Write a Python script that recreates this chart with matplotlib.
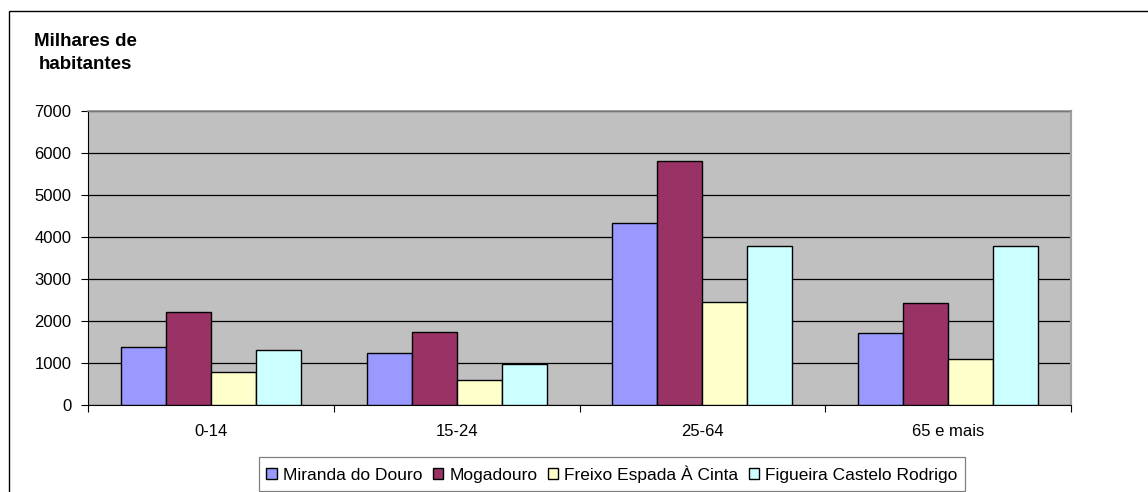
import numpy as np
import matplotlib.pyplot as plt
from matplotlib.patches import Rectangle

plt.rcParams['font.family'] = ['Liberation Sans', 'DejaVu Sans']

# dados
grupos = ['0-14', '15-24', '25-64', '65 e mais']
concelhos = ['Miranda do Douro', 'Mogadouro', 'Freixo Espada À Cinta',
             'Figueira Castelo Rodrigo']
miranda = [1390, 1230, 4340, 1720]
mogadouro = [2220, 1750, 5810, 2430]
freixo = [790, 600, 2460, 1100]
figueira = [1310, 970, 3780, 3780]
cores = ['#9999FF', '#993366', '#FFFFCC', '#CCFFFF']

series = [miranda, mogadouro, freixo, figueira]

fig = plt.figure(figsize=(11.48, 4.92), dpi=100)
W, H = 1148, 492
ax = fig.add_axes([88 / W, 1 - 405 / H, (1071 - 88) / W, (405 - 111) / H])

# moldura exterior
fig.patches.append(Rectangle((9 / W, -0.1), 1.2, 1 - 11 / H + 0.1,
                             transform=fig.transFigure, fill=False,
                             edgecolor='black', linewidth=1))

x = np.arange(len(grupos))
larg = 0.183
for i, (s, c, nome) in enumerate(zip(series, cores, concelhos)):
    ax.bar(x + (i - 1.5) * larg, s, larg, color=c, edgecolor='black',
           linewidth=1, label=nome, zorder=3)

ax.set_facecolor('#C0C0C0')
ax.set_xlim(-0.5, 3.5)
ax.set_ylim(0, 7000)
ax.set_yticks(range(0, 7001, 1000))
ax.yaxis.grid(True, color='black', linewidth=0.9, zorder=1)
ax.set_axisbelow(True)

ax.set_xticks(x)
ax.set_xticklabels(grupos)
ax.set_xticks(np.arange(-0.5, 4, 1), minor=True)
ax.tick_params(axis='x', which='major', length=0, pad=14, labelsize=12)
ax.tick_params(axis='x', which='minor', length=5, width=0.8, direction='out')
ax.tick_params(axis='y', length=5, width=0.8, labelsize=12, pad=7)

ax.spines['top'].set_color('#909090')
ax.spines['top'].set_linewidth(1.2)
ax.spines['right'].set_color('#A0A0A0')
ax.spines['right'].set_linewidth(1.6)
ax.spines['left'].set_linewidth(0.8)
ax.spines['bottom'].set_linewidth(0.8)

fig.text(85 / W, 1 - 53 / H, 'Milhares de\nhabitantes', ha='center',
         va='center', fontsize=13.5, fontweight='bold', linespacing=1.45)

leg = fig.legend(loc='center', bbox_to_anchor=(612 / W, 1 - 474 / H), ncol=4,
                 fontsize=12.5, frameon=True, fancybox=False, edgecolor='#606060',
                 handlelength=0.6, handleheight=0.6, handletextpad=0.35,
                 columnspacing=0.6, borderpad=0.45)
leg.get_frame().set_linewidth(0.9)

fig.savefig('out.png', dpi=100)
